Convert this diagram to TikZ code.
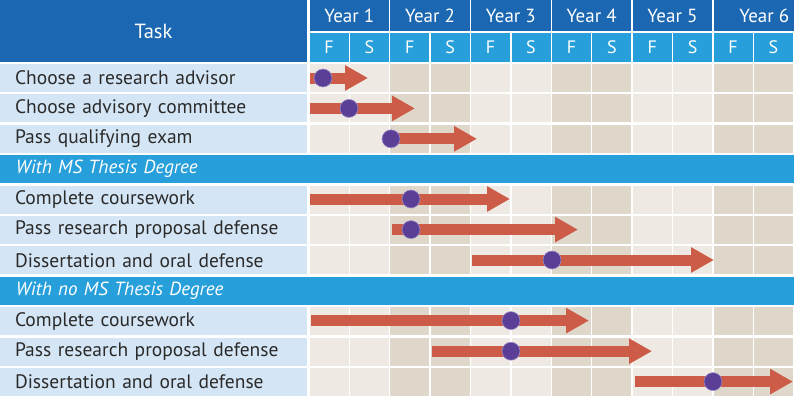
\documentclass[tikz,border=0pt]{standalone}
\usepackage{fontspec}
\setmainfont{PT Sans}
\usetikzlibrary{arrows.meta}
\definecolor{hdrblue}{HTML}{1B67B1}
\definecolor{bandblue}{HTML}{279FDA}
\definecolor{labblue}{HTML}{D4E6F6}
\definecolor{celllight}{HTML}{EEEAE3}
\definecolor{celldark}{HTML}{DFD7CA}
\definecolor{barred}{HTML}{CC5C47}
\definecolor{dotpurple}{HTML}{5B3E96}
\definecolor{dotrim}{HTML}{9A8CC8}
\definecolor{txt}{HTML}{2B2A29}
\tikzset{
  box/.style={anchor=north west, inner sep=0pt, outer sep=0pt},
  hdr/.style={box, fill=hdrblue, text=white, font=\fontsize{19}{22}\selectfont},
  sem/.style={box, fill=bandblue, text=white, minimum width=39pt, minimum height=29pt, font=\fontsize{18}{22}\selectfont},
  lab/.style={box, fill=labblue, text=txt, minimum height=28pt, inner xsep=15pt, text width=277pt, align=left, font=\fontsize{19.5}{22}\selectfont},
  band/.style={box, fill=bandblue, text=white, minimum height=28pt, inner xsep=16pt, text width=762pt, align=left, font=\fontsize{19}{22}\selectfont\itshape},
  cell/.style={box, minimum width=39pt, minimum height=28pt},
  bar/.style={draw=barred, line width=11pt, -{Triangle[length=23pt, width=24pt]}},
  dot/.style={circle, fill=dotpurple, draw=dotrim, line width=0.6pt, minimum size=18pt, inner sep=0pt}
}
\begin{document}
\begin{tikzpicture}[x=1pt, y=-1pt]
\useasboundingbox [fill=white] (0,0) rectangle (794,397);
% header
\node at (0, 0) [hdr, minimum width=307pt, minimum height=62pt, font=\fontsize{20.5}{24}\selectfont] (task) {Task};
\foreach \i in {1,...,5}
  \node at ({309.5+80.8*(\i-1)}, 0) [hdr, minimum width=79.5pt, minimum height=31pt] (year\i) {Year \i};
\node at (713.5, 0) [hdr, minimum width=80.5pt, minimum height=31pt] (year6) {\hspace*{21pt}Year 6};
\foreach \i in {0,...,5} {
  \node at ({309.5+80.8*\i}, 33) [sem] (f\i) {F};
  \node at ({349.9+80.8*\i}, 33) [sem] (s\i) {S};
}
% rows
\foreach \k/\t in {0/Choose a research advisor, 1/Choose advisory committee, 2/Pass qualifying exam,
    4/Complete coursework, 5/Pass research proposal defense, 6/Dissertation and oral defense,
    8/Complete coursework, 9/Pass research proposal defense, 10/Dissertation and oral defense} {
  \node at (0, {64+30.4*\k}) [lab] (t\k) {\t};
  \foreach \j in {0,...,11} {
    \pgfmathsetmacro{\shade}{mod(floor(\j/2),2)==0 ? "celllight" : "celldark"}
    \node at ({309.5+40.4*\j}, {64+30.4*\k}) [cell, fill=\shade] (c\k-\j) {};
  }
}
\node at (0, 155.2) [band] (ms) {With MS Thesis Degree};
\node at (0, 276.8) [band] (noms) {With no MS Thesis Degree};
% bars
\coordinate (s1) at (310, 78);    \coordinate (e1) at (368, 78);
\coordinate (s2) at (310, 108.4); \coordinate (e2) at (415, 108.4);
\coordinate (s3) at (391, 138.8); \coordinate (e3) at (477, 138.8);
\coordinate (s4) at (310, 199);   \coordinate (e4) at (510, 199);
\coordinate (s5) at (392, 229.6); \coordinate (e5) at (578, 229.6);
\coordinate (s6) at (472, 260);   \coordinate (e6) at (714, 260);
\coordinate (s7) at (311, 320.6); \coordinate (e7) at (589, 320.6);
\coordinate (s8) at (432, 351.2); \coordinate (e8) at (652, 351.2);
\coordinate (s9) at (635, 381.6); \coordinate (e9) at (793, 381.6);
\foreach \n in {1,...,9}
  \draw [bar] (s\n) to (e\n);
\node at (323, 78) [dot] (d1) {};
\node at (349, 108.4) [dot] (d2) {};
\node at (391, 138.8) [dot] (d3) {};
\node at (411, 199) [dot] (d4) {};
\node at (411, 229.6) [dot] (d5) {};
\node at (552, 260) [dot] (d6) {};
\node at (511, 320.6) [dot] (d7) {};
\node at (511, 351.2) [dot] (d8) {};
\node at (713, 381.6) [dot] (d9) {};
\end{tikzpicture}
\end{document}
